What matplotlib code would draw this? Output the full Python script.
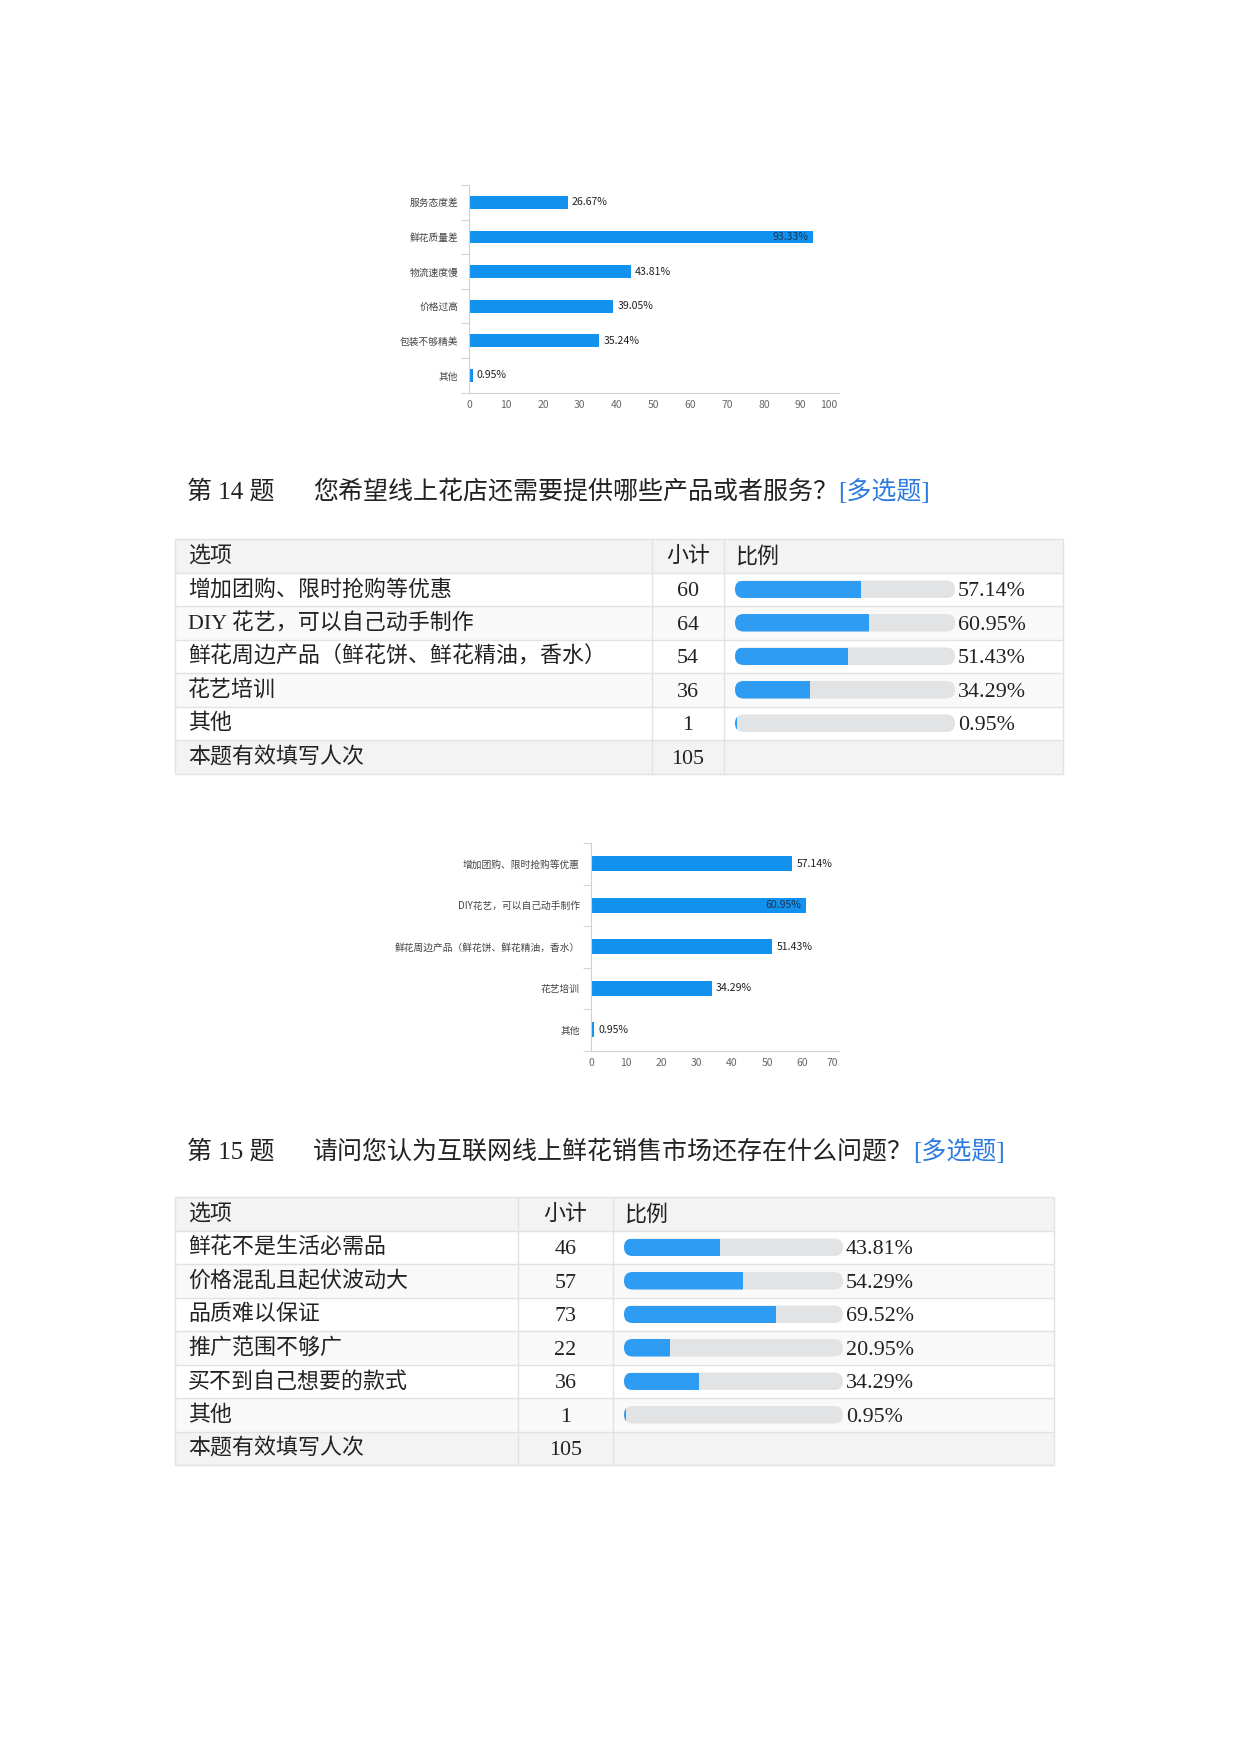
import numpy as np
import matplotlib.pyplot as plt
from matplotlib.patches import Rectangle, FancyBboxPatch

plt.rcParams['font.family'] = ['Liberation Serif', 'Noto Sans CJK SC']
CHART_FONT = ['Noto Sans CJK SC', 'DejaVu Sans']

W, H = 1240, 1754

# 第 13 题 图表
q13_labels = ['服务态度差', '鲜花质量差', '物流速度慢', '价格过高', '包装不够精美', '其他']
q13_pct = [26.67, 93.33, 43.81, 39.05, 35.24, 0.95]

# 第 14 题
q14_title = '您希望线上花店还需要提供哪些产品或者服务？'
q14_labels = ['增加团购、限时抢购等优惠', 'DIY 花艺，可以自己动手制作',
              '鲜花周边产品（鲜花饼、鲜花精油，香水）', '花艺培训', '其他']
q14_chart_labels = ['增加团购、限时抢购等优惠', 'DIY花艺，可以自己动手制作',
                    '鲜花周边产品（鲜花饼、鲜花精油，香水）', '花艺培训', '其他']
q14_counts = [60, 64, 54, 36, 1]
q14_pct = [57.14, 60.95, 51.43, 34.29, 0.95]
q14_total = 105

# 第 15 题
q15_title = '请问您认为互联网线上鲜花销售市场还存在什么问题？'
q15_labels = ['鲜花不是生活必需品', '价格混乱且起伏波动大', '品质难以保证',
              '推广范围不够广', '买不到自己想要的款式', '其他']
q15_counts = [46, 57, 73, 22, 36, 1]
q15_pct = [43.81, 54.29, 69.52, 20.95, 34.29, 0.95]
q15_total = 105

BLUE_CHART = '#1192ee'
BLUE_BAR = '#2e9cf2'
TRACK = '#e2e3e5'
LINE = '#e2e2e2'
HEAD_BG = '#f3f3f3'
STRIPE = '#f9f9f9'

fig = plt.figure(figsize=(12.4, 17.54), dpi=100)


def px_axes(x0, y0, x1, y1):
    # axes placée en pixels (origine en haut à gauche)
    return fig.add_axes([x0 / W, 1 - y1 / H, (x1 - x0) / W, (y1 - y0) / H])


page = px_axes(0, 0, W, H)
page.set_xlim(0, W)
page.set_ylim(H, 0)
page.axis('off')


def bar_chart(box, labels, pct, xmax, xlim_max, bar_h):
    ax = px_axes(*box)
    y = np.arange(len(labels))
    ax.barh(y, pct, height=bar_h, color=BLUE_CHART)
    ax.set_xlim(0, xlim_max)
    ax.set_ylim(len(labels) - 0.5, -0.5)
    ticks = np.arange(0, xmax + 1, 10)
    ax.set_xticks(ticks, [str(t) for t in ticks], fontfamily=CHART_FONT)
    ax.get_xticklabels()[-1].set_horizontalalignment('right')
    ax.tick_params(axis='x', length=0, pad=5, labelsize=7.5, labelcolor='#666666')
    ax.set_yticks(y, labels, fontfamily=CHART_FONT)
    ax.tick_params(axis='y', which='major', length=0, pad=8, labelsize=7, labelcolor='#444444')
    ax.set_yticks(np.arange(-0.5, len(labels)), minor=True)
    ax.tick_params(axis='y', which='minor', length=6, width=0.8, color='#d6d6d6')
    for s in ['top', 'right']:
        ax.spines[s].set_visible(False)
    for s in ['left', 'bottom']:
        ax.spines[s].set_color('#d0d0d0')
        ax.spines[s].set_linewidth(0.8)
    for yi, v in zip(y, pct):
        if v / xmax > 0.82:
            ax.annotate(f'{v:.2f}%', (v, yi), xytext=(-3, 0), textcoords='offset points',
                        ha='right', va='center', fontsize=7.6, color='#1c3452',
                        fontfamily=CHART_FONT)
        else:
            ax.annotate(f'{v:.2f}%', (v, yi), xytext=(3, 0), textcoords='offset points',
                        ha='left', va='center', fontsize=7.6, color='#222222',
                        fontfamily=CHART_FONT)
    return ax


def title(y, num, text):
    page.text(187, y + 2, f'第 {num} 题', fontsize=18, va='center', color='#222222')
    q = page.text(313, y + 2, text, fontsize=18, va='center', color='#222222')
    page.annotate('[多选题]', xy=(1, 0), xycoords=q, ha='left', va='bottom',
                  fontsize=18, color='#2b7be0')


def draw_table(top, cols, labels, counts, pct, total, row_h=33.5, track_w=220):
    x0, c1, c2, x1 = cols
    n = len(labels) + 2
    bottom = top + n * row_h
    for r in range(n):
        ytop = top + r * row_h
        if r == 0 or r == n - 1:
            fc = HEAD_BG
        elif r % 2 == 0:
            fc = STRIPE
        else:
            fc = 'white'
        page.add_patch(Rectangle((x0, ytop), x1 - x0, row_h, fc=fc, ec='none', zorder=0))
    page.hlines([top + r * row_h for r in range(n + 1)], x0, x1, color=LINE, lw=1, zorder=1)
    page.vlines([x0, c1, c2, x1], top, bottom, color=LINE, lw=1, zorder=1)

    fs = 15.8
    ccol = (c1 + c2) / 2
    mid = lambda r: top + (r + 0.5) * row_h + 1
    num = lambda r: top + (r + 0.5) * row_h + 2.5
    page.text(x0 + 13, mid(0), '选项', fontsize=fs, va='center', color='#222222')
    page.text(ccol, mid(0), '小计', fontsize=fs, va='center', ha='center', color='#222222')
    page.text(c2 + 11, mid(0), '比例', fontsize=fs, va='center', color='#222222')
    for i, (lab, c) in enumerate(zip(labels, counts)):
        page.text(x0 + 13, mid(i + 1), lab, fontsize=fs, va='center', color='#222222')
        page.text(ccol, num(i + 1), str(c), fontsize=fs, va='center', ha='center', color='#222222')
    page.text(x0 + 13, mid(n - 1), '本题有效填写人次', fontsize=fs, va='center', color='#222222')
    page.text(ccol, num(n - 1), str(total), fontsize=fs, va='center', ha='center', color='#222222')

    # colonne des barres de progression, échelle 0-100
    bx = px_axes(c2 + 11, top, c2 + 11 + track_w, bottom)
    bx.set_xlim(0, 100)
    bx.set_ylim(n, 0)
    bx.axis('off')
    h = 17.5 / row_h
    asp = (1 / row_h) / (100 / track_w)
    rs = (h / asp) / 2 * 0.99
    for i, v in enumerate(pct):
        yb = i + 1.5 - h / 2
        track = FancyBboxPatch((0, yb), 100, h, boxstyle=f'round,pad=0,rounding_size={rs}',
                               mutation_aspect=asp, fc=TRACK, ec='none')
        bx.add_patch(track)
        fill = Rectangle((0, yb), v, h, fc=BLUE_BAR, ec='none')
        bx.add_patch(fill)
        fill.set_clip_path(track)
        bx.annotate(f'{v:.2f}%', (100, i + 1.5), xytext=(2, -1.8), textcoords='offset points',
                    ha='left', va='center', fontsize=fs, color='#222222')


bar_chart((469.3, 185, 839, 392.7), q13_labels, q13_pct, 100, 100.4, 0.37)

title(490, 14, q14_title)
draw_table(539, (175, 652, 724, 1063), q14_labels, q14_counts, q14_pct, q14_total)

bar_chart((591, 843, 839, 1050.7), q14_chart_labels, q14_pct, 70, 70.35, 0.36)

title(1150, 15, q15_title)
draw_table(1197, (175, 518, 613, 1054), q15_labels, q15_counts, q15_pct, q15_total, track_w=219)

fig.savefig('out.png', dpi=100, facecolor='white')
